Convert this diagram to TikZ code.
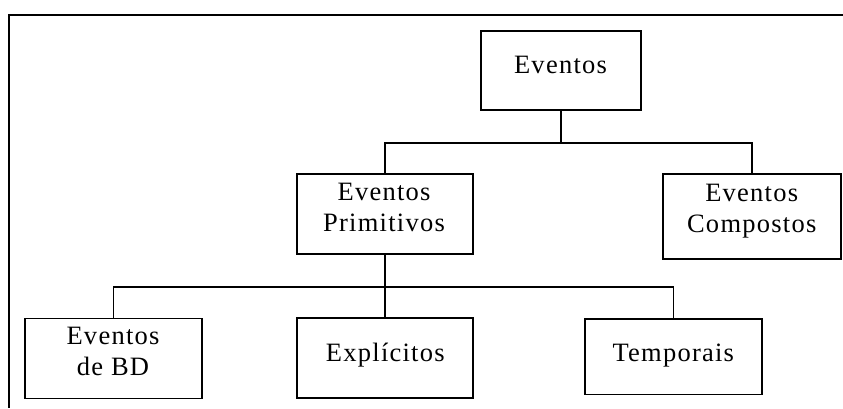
\documentclass[tikz,border=0pt]{standalone}
\usepackage{fontspec}
\newfontfamily\boxfont[LetterSpace=4.7]{Liberation Serif}
\begin{document}
\begin{tikzpicture}[x=1pt,y=-1pt,
    box/.style={draw=black, line width=1.6pt, inner sep=0pt, minimum width=#1},
    conn/.style={draw=black, line width=1.3pt},
    lbl/.style={inner sep=0pt, align=center, text=black,
                font=\boxfont\fontsize{26.5}{31}\selectfont}]
  % page extent
  \useasboundingbox (0,0) rectangle (843,408);
  % outer frame (top and left edges only)
  \draw[line width=2pt, black] (843,14.5) -- (9,14.5) -- (9,408);

  % boxes
  \node[box=160pt, minimum height=79pt]   (ev)   at (561,70.5)   {};
  \node[box=176pt, minimum height=80pt]   (prim) at (385,214)    {};
  \node[box=178pt, minimum height=85pt]   (comp) at (752,216.5)  {};
  \node[box=177pt, minimum height=80pt]   (bd)   at (113.5,358.3) {};
  \node[box=176pt, minimum height=80pt]   (expl) at (385,358)    {};
  \node[box=177pt, minimum height=75.3pt] (temp) at (673.5,356.7) {};

  % labels
  \node[lbl, anchor=base]  (tev)   at (560.5,73.3)  {Eventos};
  \node[lbl, anchor=north] (tprim) at (384,182.5)   {Eventos\\Primitivos};
  \node[lbl, anchor=north] (tcomp) at (751.7,184.2) {Eventos\\Compostos};
  \node[lbl, anchor=north] (tbd)   at (113,326.8)   {Eventos\\de BD};
  \node[lbl, anchor=base]  (texpl) at (385.3,361.7) {Explícitos};
  \node[lbl, anchor=base]  (ttemp) at (673.3,361)   {Temporais};

  % bus levels
  \coordinate (b1) at (0,143);
  \coordinate (b2) at (0,287);

  % connectors
  \draw[conn] (ev.south) -- (ev.south |- b1);
  \draw[conn] (prim.north) -- (prim.north |- b1) -- (comp.north |- b1) -- (comp.north);
  \draw[conn] (prim.south) -- (expl.north);
  \draw[conn] (bd.north) -- (bd.north |- b2) -- (temp.north |- b2) -- (temp.north);
\end{tikzpicture}
\end{document}
